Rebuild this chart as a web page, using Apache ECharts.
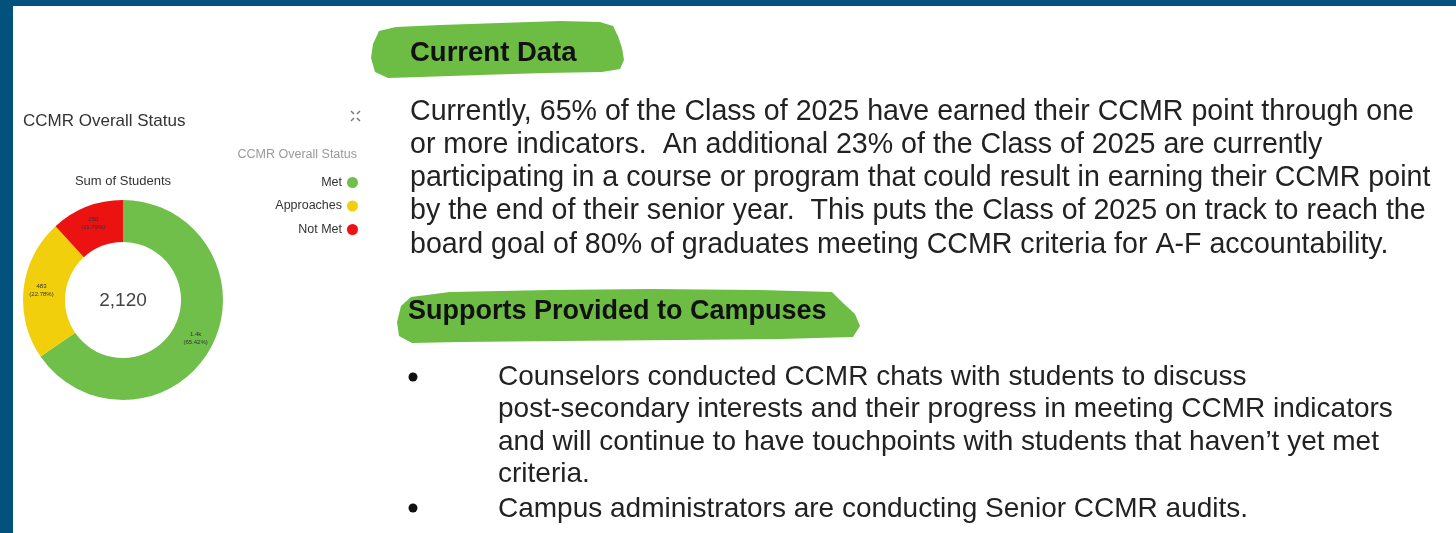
<!DOCTYPE html>
<html>
<head>
<meta charset="utf-8">
<script src="https://cdn.jsdelivr.net/npm/echarts@6/dist/echarts.min.js"></script>
<style>
  html, body { margin: 0; padding: 0; background: #fff; }
  #main { width: 1456px; height: 533px; }
</style>
</head>
<body>
<div id="main"></div>
<script>
// data
var statusNames = ['Met', 'Approaches', 'Not Met'];
var statusValues = [1387, 483, 250];
var statusColors = ['#6fbf4a', '#f2cf0c', '#ec1212'];

var currentLines = [
    'Currently, 65% of the Class of 2025 have earned their CCMR point through one',
    'or more indicators.  An additional 23% of the Class of 2025 are currently',
    'participating in a course or program that could result in earning their CCMR point',
    'by the end of their senior year.  This puts the Class of 2025 on track to reach the',
    'board goal of 80% of graduates meeting CCMR criteria for A-F accountability.'
];
var supportLines = [
    'Counselors conducted CCMR chats with students to discuss',
    'post-secondary interests and their progress in meeting CCMR indicators',
    'and will continue to have touchpoints with students that haven\u2019t yet met',
    'criteria.',
    'Campus administrators are conducting Senior CCMR audits.'
];

var total = 0;
for (var i = 0; i < statusValues.length; i++) total += statusValues[i];

var pieData = [];
for (var i = 0; i < statusNames.length; i++) {
    pieData.push({
        name: statusNames[i],
        value: statusValues[i],
        itemStyle: { color: statusColors[i] }
    });
}

function shortNum(v) {
    return v >= 1000 ? (v / 1000).toFixed(1) + 'k' : String(v);
}

var FONT = 'Arial, "Liberation Sans", sans-serif';
var graphics = [];

// frame
graphics.push({ type: 'rect', shape: { x: 0, y: 0, width: 1456, height: 6 }, style: { fill: '#03527e' } });
graphics.push({ type: 'rect', shape: { x: 0, y: 0, width: 13, height: 533 }, style: { fill: '#03527e' } });

// brush highlights behind headers
graphics.push({
    type: 'polygon',
    shape: { points: [[373,44],[379,31],[396,27],[440,25],[500,23],[560,21],[600,22],[613,26],[618,36],[622,48],[624,60],[620,69],[602,72],[545,73],[480,75],[420,77],[388,78],[375,72],[371,58]] },
    style: { fill: '#6dbd45' }
});
graphics.push({
    type: 'polygon',
    shape: { points: [[397,322],[401,306],[411,297],[450,292],[550,290],[650,289],[760,290],[832,292],[842,302],[855,314],[860,326],[853,337],[780,339],[680,340],[560,341],[460,342],[412,343],[399,336]] },
    style: { fill: '#6dbd45' }
});

// headers
graphics.push({ type: 'text', x: 410, y: 67, style: { text: 'Current Data', font: 'bold 27.5px ' + FONT, fill: '#111', textVerticalAlign: 'bottom' } });
graphics.push({ type: 'text', x: 408, y: 325, style: { text: 'Supports Provided to Campuses', font: 'bold 27px ' + FONT, fill: '#111', textVerticalAlign: 'bottom' } });

// paragraph
for (var i = 0; i < currentLines.length; i++) {
    graphics.push({ type: 'text', x: 410, y: 126.5 + 33.2 * i, style: { text: currentLines[i], font: '28.6px ' + FONT, fill: '#222', textVerticalAlign: 'bottom' } });
}

// bullets
var bulletY = [391, 423.5, 456, 488, 523];
for (var i = 0; i < supportLines.length; i++) {
    graphics.push({ type: 'text', x: 498, y: bulletY[i], style: { text: supportLines[i], font: '28px ' + FONT, fill: '#222', textVerticalAlign: 'bottom' } });
}
graphics.push({ type: 'circle', shape: { cx: 413, cy: 377, r: 4.5 }, style: { fill: '#111' } });
graphics.push({ type: 'circle', shape: { cx: 413, cy: 508, r: 4.5 }, style: { fill: '#111' } });

// chart extras
graphics.push({ type: 'text', x: 123, y: 181, style: { text: 'Sum of Students', font: '13px ' + FONT, fill: '#333', textAlign: 'center', textVerticalAlign: 'middle' } });
graphics.push({ type: 'text', x: 123, y: 301, style: { text: total.toLocaleString('en-US'), font: '19px ' + FONT, fill: '#444', textAlign: 'center', textVerticalAlign: 'middle' } });
graphics.push({ type: 'text', x: 357, y: 155, style: { text: 'CCMR Overall Status', font: '12.5px ' + FONT, fill: '#9a9a9a', textAlign: 'right', textVerticalAlign: 'middle' } });
// collapse icon
var ic = [[[351,111],[354,114]],[[360,111],[357,114]],[[351,121],[354,118]],[[360,121],[357,118]]];
for (var i = 0; i < ic.length; i++) {
    graphics.push({ type: 'line', shape: { x1: ic[i][0][0], y1: ic[i][0][1], x2: ic[i][1][0], y2: ic[i][1][1] }, style: { stroke: '#777', lineWidth: 1.5 } });
}

var myChart = echarts.init(document.getElementById('main'));
var option = {
    animation: false,
    title: {
        text: 'CCMR Overall Status',
        left: 18,
        top: 108,
        textStyle: { fontFamily: FONT, fontSize: 17, fontWeight: 'normal', color: '#333' }
    },
    legend: {
        data: statusNames,
        orient: 'vertical',
        align: 'right',
        right: 1098,
        top: 176,
        padding: 0,
        icon: 'circle',
        itemWidth: 11,
        itemHeight: 11,
        itemGap: 10.5,
        textStyle: { fontFamily: FONT, fontSize: 12.5, color: '#333' }
    },
    series: [{
        type: 'pie',
        center: [123, 300],
        radius: [58, 100],
        startAngle: 90,
        clockwise: true,
        label: {
            show: true,
            position: 'inside',
            fontFamily: FONT,
            fontSize: 6,
            lineHeight: 8,
            color: '#333',
            formatter: function (p) {
                return shortNum(p.value) + '\n(' + (p.value / total * 100).toFixed(2) + '%)';
            }
        },
        labelLine: { show: false },
        emphasis: { disabled: true },
        data: pieData
    }],
    graphic: graphics
};
myChart.setOption(option);
</script>
</body>
</html>
